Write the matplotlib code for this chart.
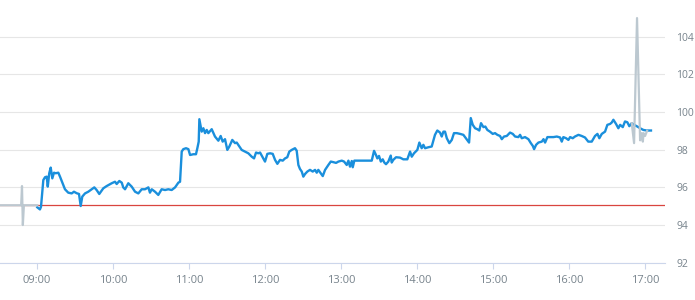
import matplotlib
matplotlib.use('Agg')
import matplotlib.pyplot as plt
import matplotlib.dates as mdates
import pandas as pd

DAY = '2020-01-06 '

# main price series (blue)
blue_times = [
    '09:00:15', '09:02:20', '09:03:10', '09:05:00', '09:06:20', '09:07:40', '09:08:30', '09:09:40',
    '09:10:50', '09:12:05', '09:13:25', '09:14:45', '09:16:50', '09:18:10', '09:20:15', '09:22:05',
    '09:24:40', '09:27:25', '09:29:10', '09:31:20', '09:33:10', '09:34:30', '09:35:45', '09:37:55',
    '09:40:30', '09:43:10', '09:45:15', '09:47:05', '09:49:10', '09:52:20', '09:55:00', '09:59:00',
    '10:01:35', '10:02:55', '10:05:00', '10:06:55', '10:08:05', '10:09:30', '10:12:05', '10:14:45',
    '10:17:25', '10:20:00', '10:22:40', '10:25:15', '10:27:55', '10:29:10', '10:30:35', '10:33:10',
    '10:35:45', '10:38:25', '10:41:05', '10:43:40', '10:46:20', '10:49:00', '10:51:35', '10:52:55',
    '10:54:15', '10:55:30', '10:57:40', '10:59:30', '11:00:50', '11:03:25', '11:05:30', '11:06:35',
    '11:07:40', '11:08:10', '11:10:00', '11:11:20', '11:12:40', '11:14:00', '11:15:15', '11:17:55',
    '11:20:30', '11:23:10', '11:25:00', '11:26:35', '11:28:25', '11:30:15', '11:31:50', '11:34:10',
    '11:36:20', '11:37:40', '11:39:45', '11:41:35', '11:44:10', '11:46:50', '11:49:30', '11:51:20',
    '11:52:55', '11:54:45', '11:56:05', '11:58:10', '12:00:00', '12:01:50', '12:04:00', '12:06:05',
    '12:07:55', '12:09:45', '12:11:50', '12:14:00', '12:15:50', '12:17:35', '12:19:10', '12:21:05',
    '12:23:40', '12:25:00', '12:26:20', '12:27:35', '12:29:00', '12:30:15', '12:31:35', '12:33:25',
    '12:35:30', '12:37:40', '12:39:30', '12:40:50', '12:42:05', '12:44:00', '12:45:35', '12:47:25',
    '12:50:00', '12:51:55', '12:53:55', '12:56:05', '12:57:55', '13:00:35', '13:02:25', '13:04:30',
    '13:05:50', '13:07:05', '13:08:30', '13:09:15', '13:10:30', '13:24:15', '13:26:05', '13:27:35',
    '13:28:40', '13:30:00', '13:31:25', '13:32:55', '13:34:10', '13:35:30', '13:37:20', '13:39:15',
    '13:40:00', '13:41:15', '13:43:25', '13:46:35', '13:49:10', '13:52:20', '13:54:30', '13:55:50',
    '13:57:35', '14:00:15', '14:01:50', '14:03:40', '14:05:00', '14:06:20', '14:08:55', '14:11:35',
    '14:14:10', '14:16:00', '14:18:10', '14:19:30', '14:20:50', '14:22:05', '14:23:30', '14:25:30',
    '14:27:25', '14:29:10', '14:31:25', '14:34:00', '14:36:35', '14:39:10', '14:41:05', '14:42:25',
    '14:44:00', '14:45:50', '14:47:35', '14:49:10', '14:50:30', '14:52:25', '14:53:55', '14:55:30',
    '14:57:35', '14:59:45', '15:01:35', '15:03:25', '15:05:30', '15:06:55', '15:08:40', '15:10:50',
    '15:13:25', '15:15:35', '15:17:25', '15:20:00', '15:21:20', '15:22:40', '15:25:15', '15:27:55',
    '15:29:50', '15:31:25', '15:32:25', '15:34:00', '15:35:50', '15:38:30', '15:39:50', '15:41:05',
    '15:42:55', '15:47:40', '15:50:20', '15:52:55', '15:54:15', '15:55:30', '15:57:40', '15:59:30',
    '16:00:50', '16:02:55', '16:04:40', '16:07:25', '16:10:00', '16:12:35', '16:15:10', '16:17:55',
    '16:20:30', '16:22:25', '16:23:55', '16:25:50', '16:28:25', '16:30:15', '16:32:25', '16:33:40',
    '16:35:00', '16:37:05', '16:38:55', '16:40:20', '16:42:25', '16:44:10', '16:46:00', '16:47:35',
    '16:49:30', '16:51:20', '16:53:25', '16:56:05', '16:58:40', '17:01:20', '17:04:40',
]
blue_prices = [
    94.94, 94.83, 94.97, 96.39, 96.54, 96.57, 96.04, 96.75,
    97.05, 96.48, 96.78, 96.75, 96.78, 96.57, 96.22, 95.90,
    95.72, 95.68, 95.77, 95.69, 95.65, 95.01, 95.51, 95.68,
    95.77, 95.90, 96.00, 95.86, 95.65, 95.95, 96.07, 96.22,
    96.30, 96.18, 96.34, 96.25, 96.00, 95.90, 96.22, 96.04,
    95.77, 95.68, 95.90, 95.90, 96.00, 95.72, 95.90, 95.77,
    95.60, 95.90, 95.86, 95.90, 95.86, 96.00, 96.25, 96.30,
    97.90, 98.03, 98.08, 98.03, 97.72, 97.76, 97.76, 98.08,
    98.43, 99.62, 98.96, 99.14, 98.88, 99.05, 98.88, 99.09,
    98.70, 98.48, 98.73, 98.43, 98.56, 97.99, 98.17, 98.52,
    98.35, 98.38, 98.17, 97.99, 97.90, 97.81, 97.63, 97.54,
    97.85, 97.81, 97.85, 97.60, 97.37, 97.78, 97.81, 97.78,
    97.46, 97.25, 97.46, 97.42, 97.54, 97.60, 97.90, 97.99,
    98.08, 97.95, 97.19, 96.98, 96.84, 96.57, 96.71, 96.84,
    96.93, 96.84, 96.93, 96.78, 96.93, 96.75, 96.60, 96.93,
    97.19, 97.37, 97.34, 97.30, 97.37, 97.42, 97.37, 97.19,
    97.42, 97.10, 97.40, 97.07, 97.42, 97.42, 97.94, 97.72,
    97.54, 97.67, 97.37, 97.49, 97.32, 97.23, 97.37, 97.69,
    97.32, 97.46, 97.60, 97.58, 97.49, 97.49, 97.90, 97.63,
    97.81, 97.99, 98.38, 98.08, 98.26, 98.08, 98.13, 98.17,
    98.79, 99.02, 98.91, 98.70, 98.96, 98.96, 98.61, 98.35,
    98.52, 98.88, 98.88, 98.84, 98.79, 98.56, 98.38, 99.68,
    99.32, 99.14, 99.09, 99.02, 99.41, 99.20, 99.23, 99.05,
    98.96, 98.84, 98.88, 98.79, 98.73, 98.56, 98.70, 98.73,
    98.91, 98.84, 98.70, 98.67, 98.79, 98.61, 98.67, 98.56,
    98.35, 98.20, 98.03, 98.26, 98.38, 98.43, 98.56, 98.38,
    98.67, 98.67, 98.70, 98.65, 98.43, 98.67, 98.61, 98.52,
    98.67, 98.61, 98.70, 98.79, 98.73, 98.65, 98.43, 98.43,
    98.73, 98.84, 98.61, 98.84, 98.96, 99.32, 99.37, 99.44,
    99.59, 99.37, 99.14, 99.32, 99.20, 99.50, 99.46, 99.25,
    99.41, 99.32, 99.25, 99.14, 99.05, 99.02, 99.02,
]

# secondary quotes outside the main session (gray)
pre_times = ['08:30:50', '08:47:30', '08:48:10', '08:48:50', '08:49:40', '09:00:15']
pre_prices = [95.05, 95.05, 96.07, 94.00, 95.05, 95.05]
post_times = ['16:49:30', '16:51:20', '16:53:40', '16:56:05', '16:57:25', '16:58:15',
              '16:58:50', '17:00:00', '17:01:35']
post_prices = [99.41, 98.35, 104.99, 98.50, 98.88, 98.43, 98.88, 98.73, 99.00]

ref_price = 95.05
y_ticks = [92, 94, 96, 98, 100, 102, 104]
x_ticks = ['09:00', '10:00', '11:00', '12:00', '13:00', '14:00', '15:00', '16:00', '17:00']


def to_dt(times):
    return pd.to_datetime([DAY + t for t in times])


plt.rcParams['font.family'] = ['Open Sans', 'DejaVu Sans']

fig = plt.figure(figsize=(6.95, 3.0), dpi=100)
ax = fig.add_axes([0.0, 0.1243, 0.957, 0.8757])

ax.axhline(ref_price, color='#d9453f', lw=0.9, zorder=2)
ax.plot(to_dt(blue_times), blue_prices, color='#1a8fdc', lw=1.7, zorder=3,
        solid_joinstyle='round')
ax.plot(to_dt(pre_times), pre_prices, color='#bcc8d0', lw=1.6, zorder=4)
ax.plot(to_dt(post_times), post_prices, color='#bcc8d0', lw=1.6, zorder=4)

ax.set_xlim(pd.Timestamp(DAY + '08:30:48'), pd.Timestamp(DAY + '17:15:50'))
ax.set_ylim(92, 105.95)

ax.set_xticks(to_dt(x_ticks))
ax.xaxis.set_major_formatter(mdates.DateFormatter('%H:%M'))
ax.set_yticks(y_ticks)

ax.yaxis.tick_right()
ax.grid(axis='y', color='#e6e6e6', lw=0.8)
ax.set_axisbelow(True)

for side in ['top', 'left', 'right']:
    ax.spines[side].set_visible(False)
ax.spines['bottom'].set_color('#ccd6eb')
ax.spines['bottom'].set_linewidth(0.8)

ax.tick_params(axis='x', colors='#ccd6eb', length=4, width=0.8, pad=5,
               labelcolor='#77838c', labelsize=8)
ax.tick_params(axis='y', length=0, pad=8, labelcolor='#77838c', labelsize=7.5)
for lbl in ax.get_yticklabels():
    lbl.set_horizontalalignment('left')

fig.savefig('out.png', dpi=100)
